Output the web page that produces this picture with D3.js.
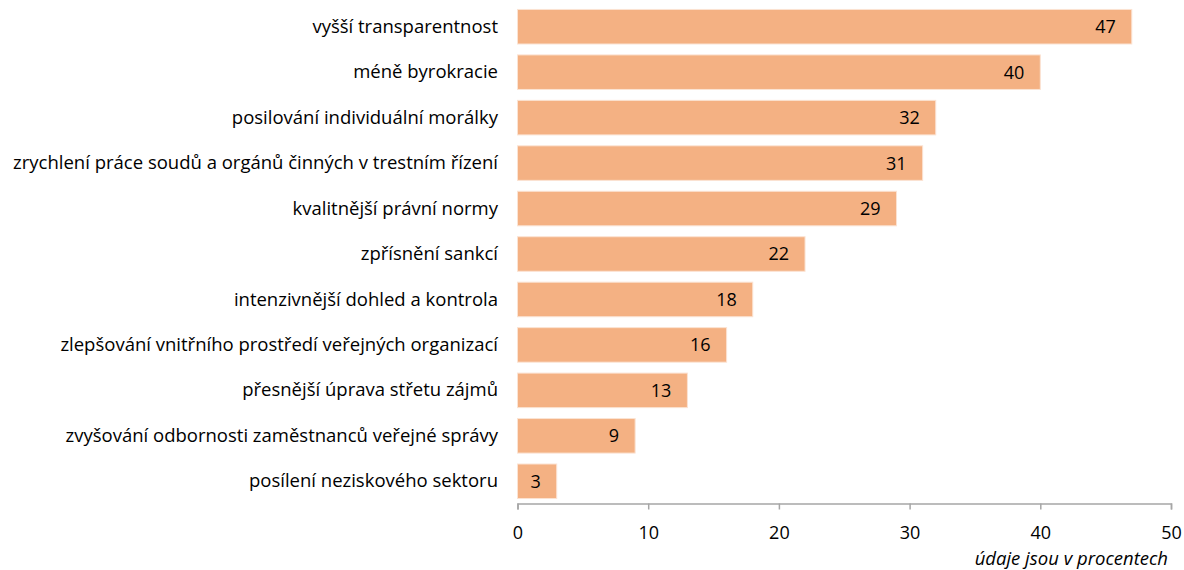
<!DOCTYPE html>
<html><head><meta charset="utf-8">
<script src="https://cdn.jsdelivr.net/npm/d3@7"></script>
<style>body{margin:0;background:#fff}svg text{font-family:"Open Sans",sans-serif}</style>
</head><body><svg id="c" width="1184" height="570"></svg>
<script>
const categories = ["vyšší transparentnost","méně byrokracie","posilování individuální morálky","zrychlení práce soudů a orgánů činných v trestním řízení","kvalitnější právní normy","zpřísnění sankcí","intenzivnější dohled a kontrola","zlepšování vnitřního prostředí veřejných organizací","přesnější úprava střetu zájmů","zvyšování odbornosti zaměstnanců veřejné správy","posílení neziskového sektoru"];
const values = [47,40,32,31,29,22,18,16,13,9,3];
const tickValues = [0,10,20,30,40,50];
const axisNote = "údaje jsou v procentech";

const svg = d3.select("#c");
const x = d3.scaleLinear().domain([0,50]).range([517.5,1171]);
const y = d3.scaleBand().domain(categories).range([4,504]).paddingInner(0.24).paddingOuter(0.12);

svg.selectAll("rect.bar").data(values).join("rect").attr("class","bar")
  .attr("x",x(0)).attr("y",(d,i)=>y(categories[i]))
  .attr("width",d=>x(d)-x(0)).attr("height",y.bandwidth())
  .attr("fill","#F4B183").attr("stroke","#FBE3D3").attr("stroke-width",1);

svg.selectAll("text.val").data(values).join("text").attr("class","val")
  .attr("x",d=>x(d)-16).attr("y",(d,i)=>y(categories[i])+y.bandwidth()/2)
  .attr("dy","0.36em").attr("text-anchor","end").attr("font-size",18).attr("fill","#000")
  .text(d=>d);

svg.selectAll("text.cat").data(categories).join("text").attr("class","cat")
  .attr("x",498).attr("y",d=>y(d)+y.bandwidth()/2)
  .attr("dy","0.33em").attr("text-anchor","end").attr("font-size",18.5).attr("fill","#000")
  .text(d=>d);

const ax = svg.append("g").attr("transform","translate(0,503.5)")
  .call(d3.axisBottom(x).tickValues(tickValues).tickSize(6).tickPadding(16.5));
ax.select(".domain").attr("stroke","#a6a6a6").attr("stroke-width",1.5);
ax.selectAll(".tick line").attr("stroke","#a6a6a6").attr("stroke-width",1.5);
ax.selectAll(".tick text").attr("font-size",18).attr("fill","#000").attr("font-family","Open Sans");

svg.append("text").attr("x",1168).attr("y",565).attr("text-anchor","end")
  .attr("font-size",18.5).attr("font-style","italic").attr("fill","#000").text(axisNote);
</script></body></html>
